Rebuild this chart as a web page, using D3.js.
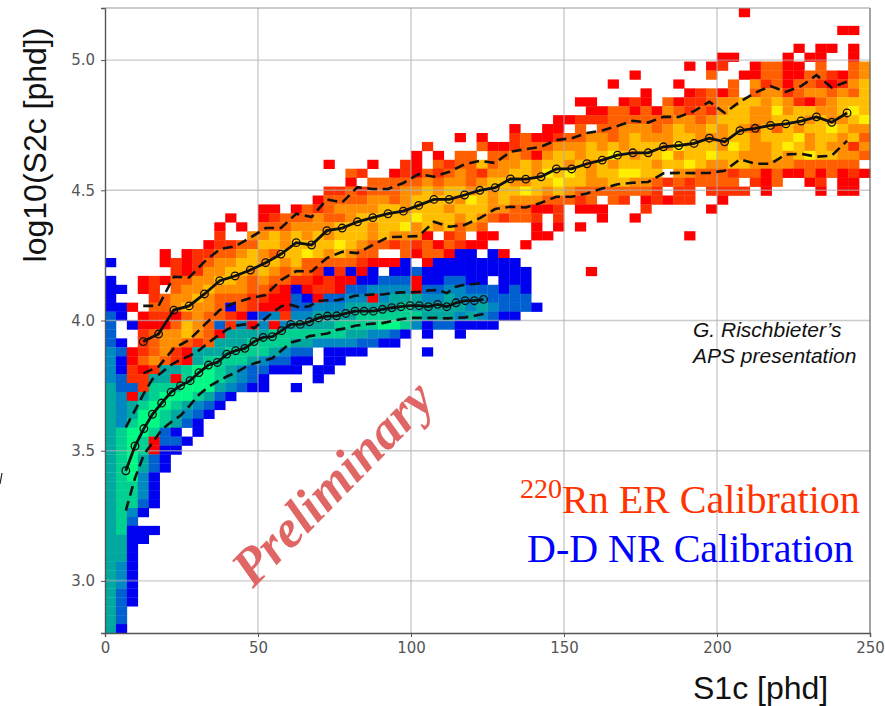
<!DOCTYPE html>
<html>
<head>
<meta charset="utf-8">
<script src="https://cdn.jsdelivr.net/npm/d3@7"></script>
<style>
  body { margin: 0; background: #fff; }
</style>
</head>
<body>
<div id="chart-area"></div>
<script>
const xTicks = [0, 50, 100, 150, 200, 250];
const yTicks = [3.0, 3.5, 4.0, 4.5, 5.0];

// 70 x 70 histogram, top row first, in groups of ten columns.
// 1-6 is the ER count level (red to yellow), a-f the NR count level (blue to green)
const histRows = [
  ".......... .......... .......... .......... .......... ........1.",
  "",
  ".......... .......... .......... .......... .......... .......... .......11.",
  "",
  ".......... .......... .......... .......... .......... .......... ...1.11.1.",
  ".......... .......... .......... .......... .......... ......11.. ..1.11..1.",
  ".......... .......... .......... .......... .......... ...1.12..1 3311.3..34",
  ".......... .......... .......... .......... ........1. .....3..11 3311332134",
  ".......... .......... .......... .......... ......1... ..1....3.4 2313321245",
  ".......... .......... .......... .......... .........1 ...12313.3 4423443435",
  ".......... .......... .......... .......... ...11..121 .312234455 4542134555",
  ".......... .......... .......... .......... ....113313 1432324554 4645544565",
  ".......... .......... .......... .......... .112223333 3344345554 4555454456",
  ".......... .......... .......... .......1.. 11.3.33444 3454454543 5354556544",
  ".......... .......... .......... ..1.1..231 1233443454 4455444554 5556455453",
  ".......... .......... .........2 ....311233 3444545455 5465554654 4565454424",
  ".......... .......... ........1. 1.33.33431 4554556545 5645565544 4545655443",
  ".......... .......... 1...1..21. 3233534454 5545454555 4556544554 444333333.",
  ".......... .......... ..32..1213 2343244554 6565455665 5.44333233 1311313121",
  ".......... .......... ..1.333334 3443455445 5655445544 32323333.2 13..12.11.",
  ".......... .......... 2232333445 4554545565 4543333333 2.22.2222. 1....1.11.",
  ".......... .........1 3333443455 5546545444 33323.32.1 2122..1...",
  ".......... ....11.132 3444455455 5455544331 12.111...2 .....1....",
  ".......... .1..123334 3345555565 5545432332 .2...1..1.",
  ".......... 1.1.333444 4555455645 45343....1 .1.1......",
  ".......... 2..4454545 4555454441 .23.11...1 1......... ...1......",
  ".........1 2233554555 5654332323 13211...1.",
  ".....1.122 3345435565 45433..313 31aa.a1...",
  "a....12123 4455454533 3332111a.1 aaaaaaaa..",
  "......2124 4554543432 a2a1a.aaba aaaaaaaaa. ....1.....",
  "a..1213344 5543433221 211aabbb1a abbaa.aaa.",
  "aa.12.3445 4443321a12 21bbcccc1b bccbbbaba.",
  "a...234454 3332211ba1 bbcc1cdddc cdcccbbbb.",
  "aa1.334544 3a32111bbc ccdddddedd dddcdcbbba",
  "ba.1221343 321abc2ccd dddeeeeeed ddcdcbaa..",
  "b.a1113543 b2c1c1cddd deeeeffeca bbaaaa....",
  "b..2344543 1ddddeeeee eeddccba.a ..a.......",
  "ba.2344323 dddeeeeddc cccbbaa...",
  "cb123421dd deeeedcbb. aaaa.....a",
  "ca134321de eeedcbbaa. aa........",
  "ca212ddeff edcbbaaa.a a.........",
  "cb22dd1eff edcba....a",
  "dbb2eeefff dcbaa..a..",
  "dc1defffed ba........",
  "dcdeffedcb a.........",
  "dcdffedcba",
  "dceffedba.",
  "deffeba.a.",
  "defe1bba..",
  "defe1aa...",
  "defdba....",
  "defdba....",
  "defca.....",
  "deeca.....",
  "deeca.....",
  "deeba.....",
  "deca......",
  "deb.......",
  "deaaa.....",
  "ddaa......",
  "dda.......",
  "dda.......",
  "dca.......",
  "dca.......",
  "dca.......",
  "dba.......",
  "dba.......",
  "db........",
  "db........",
  "da........"
];

const erS1 = [12.5, 17.5, 22.5, 27.5, 32.5, 37.5, 42.5, 47.5, 52.5, 57.5, 62.5, 67.5, 72.5, 77.5, 82.5, 87.5,
  92.5, 97.5, 102.5, 107.5, 112.5, 117.5, 122.5, 127.5, 132.5, 137.5, 142.5, 147.5, 152.5, 157.5, 162.5,
  167.5, 172.5, 177.5, 182.5, 187.5, 192.5, 197.5, 202.5, 207.5, 212.5, 217.5, 222.5, 227.5, 232.5, 237.5, 242.5];
const erMedian = [3.919, 3.948, 4.040, 4.056, 4.102, 4.153, 4.171, 4.194, 4.222, 4.255, 4.299, 4.290, 4.345, 4.355, 4.379, 4.395,
  4.410, 4.420, 4.442, 4.465, 4.465, 4.482, 4.500, 4.510, 4.544, 4.543, 4.552, 4.582, 4.582, 4.602, 4.616,
  4.635, 4.644, 4.644, 4.667, 4.672, 4.680, 4.700, 4.686, 4.729, 4.738, 4.749, 4.755, 4.766, 4.782, 4.761, 4.797];
const erUpper = [4.056, 4.056, 4.168, 4.165, 4.226, 4.274, 4.285, 4.318, 4.355, 4.355, 4.410, 4.397, 4.465, 4.453, 4.512, 4.505,
  4.505, 4.528, 4.562, 4.552, 4.571, 4.600, 4.613, 4.605, 4.648, 4.658, 4.667, 4.693, 4.700, 4.720, 4.730,
  4.747, 4.767, 4.760, 4.782, 4.782, 4.804, 4.840, 4.797, 4.840, 4.875, 4.900, 4.878, 4.900, 4.942, 4.895, 4.917];
const erLower = [3.797, 3.823, 3.893, 3.925, 3.983, 4.040, 4.068, 4.086, 4.098, 4.155, 4.190, 4.188, 4.240, 4.264, 4.259, 4.290,
  4.320, 4.322, 4.324, 4.379, 4.360, 4.367, 4.393, 4.428, 4.437, 4.434, 4.452, 4.475, 4.475, 4.488, 4.507,
  4.523, 4.529, 4.532, 4.565, 4.567, 4.566, 4.567, 4.575, 4.619, 4.602, 4.602, 4.638, 4.640, 4.629, 4.633, 4.690];

const nrS1 = [6.8, 9.8, 12.7, 15.5, 18.5, 21.6, 24.7, 27.8, 30.7, 33.8, 36.7, 39.8, 42.7, 45.7, 48.7, 51.7, 54.7, 57.7, 60.7, 63.8,
  66.8, 69.8, 72.7, 75.7, 78.7, 81.7, 84.7, 87.7, 90.7, 93.7, 96.7, 99.7, 102.7, 105.7, 108.7, 111.7, 114.7, 117.7, 120.7, 123.7];
const nrMedian = [3.423, 3.518, 3.585, 3.640, 3.683, 3.725, 3.750, 3.769, 3.800, 3.829, 3.839, 3.871, 3.884, 3.893, 3.919, 3.935, 3.938, 3.961, 3.985, 3.985,
  3.995, 4.010, 4.017, 4.018, 4.027, 4.036, 4.036, 4.036, 4.043, 4.049, 4.053, 4.057, 4.057, 4.053, 4.062, 4.053, 4.068, 4.076, 4.076, 4.081];
const nrUpper = [3.590, 3.655, 3.720, 3.775, 3.800, 3.830, 3.850, 3.865, 3.885, 3.915, 3.940, 3.965, 3.980, 3.985, 3.970, 4.000, 4.030, 4.055, 4.060, 4.050,
  4.055, 4.075, 4.078, 4.078, 4.085, 4.095, 4.098, 4.100, 4.100, 4.105, 4.108, 4.108, 4.110, 4.115, 4.117, 4.105, 4.130, 4.138, 4.140, 4.145];
const nrLower = [3.270, 3.395, 3.485, 3.530, 3.580, 3.610, 3.635, 3.675, 3.715, 3.745, 3.765, 3.785, 3.800, 3.820, 3.835, 3.845, 3.855, 3.885, 3.915, 3.925,
  3.940, 3.945, 3.950, 3.964, 3.970, 3.980, 3.985, 3.988, 3.990, 3.998, 4.005, 4.010, 4.010, 4.010, 4.010, 4.008, 4.010, 4.012, 4.018, 4.025];

const margin = { left: 105, right: 15, top: 8, bottom: 73 };
const width = 885;
const height = 706;
const innerW = width - margin.left - margin.right;
const innerH = height - margin.top - margin.bottom;

const scaleX = d3.scaleLinear().domain([0, 250]).range([0, innerW]);
const scaleY = d3.scaleLinear().domain([2.8, 5.2]).range([innerH, 0]);
const bandX = d3.scaleBand().domain(d3.range(70)).range([0, innerW]);
const bandY = d3.scaleBand().domain(d3.range(70)).range([0, innerH]);

const erColor = d3.scaleLinear().domain([1, 6]).range(['#ff0000', '#ffee00']);
const nrColor = d3.scaleLinear()
  .domain([1, 2, 3, 4, 5, 6])
  .range(['#0000f0', '#0060d0', '#0088c0', '#00a8a0', '#00d090', '#00fa84']);

const cells = [];
histRows.forEach((row, i) => {
  row.replace(/ /g, '').split('').forEach((c, j) => {
    if (c !== '.') cells.push({ row: i, col: j, code: c });
  });
});

const cellColor = d => (d.code >= 'a' ? nrColor(d.code.charCodeAt(0) - 96) : erColor(+d.code));

const svg = d3.select('#chart-area').append('svg')
  .attr('width', width)
  .attr('height', height)
  .style('display', 'block');

const g = svg.append('g')
  .attr('transform', `translate(${margin.left}, ${margin.top})`);

g.selectAll('rect.cell')
  .data(cells)
  .enter().append('rect')
    .attr('class', 'cell')
    .attr('x', d => bandX(d.col))
    .attr('y', d => bandY(d.row))
    .attr('width', bandX.bandwidth() + 0.3)
    .attr('height', bandY.bandwidth() + 0.3)
    .attr('fill', cellColor);

// grid sits over the cells, as it does in the picture
g.selectAll('line.gridx')
  .data(xTicks.slice(1, -1))
  .enter().append('line')
    .attr('class', 'gridx')
    .attr('x1', d => scaleX(d))
    .attr('x2', d => scaleX(d))
    .attr('y1', 0)
    .attr('y2', innerH);

g.selectAll('line.gridy')
  .data(yTicks)
  .enter().append('line')
    .attr('class', 'gridy')
    .attr('x1', 0)
    .attr('x2', innerW)
    .attr('y1', d => scaleY(d))
    .attr('y2', d => scaleY(d));

g.selectAll('.gridx, .gridy')
  .attr('stroke', '#b0b0b0')
  .attr('stroke-width', 1.4)
  .attr('opacity', 0.65);

const line = d3.line()
  .x(d => scaleX(d[0]))
  .y(d => scaleY(d[1]));

const bands = [
  [erS1, erUpper],
  [erS1, erLower],
  [nrS1, nrUpper],
  [nrS1, nrLower]
];
bands.forEach(([xs, ys]) => {
  g.append('path')
    .attr('d', line(d3.zip(xs, ys)))
    .attr('fill', 'none')
    .attr('stroke', '#111')
    .attr('stroke-width', 2.6)
    .attr('stroke-dasharray', '10,5.5');
});

const medians = [[erS1, erMedian], [nrS1, nrMedian]];
medians.forEach(([xs, ys]) => {
  const pts = d3.zip(xs, ys);
  g.append('path')
    .attr('d', line(pts))
    .attr('fill', 'none')
    .attr('stroke', '#111')
    .attr('stroke-width', 2.8);
  g.append('g').selectAll('circle')
    .data(pts)
    .enter().append('circle')
      .attr('cx', d => scaleX(d[0]))
      .attr('cy', d => scaleY(d[1]))
      .attr('r', 3.8)
      .attr('fill', 'none')
      .attr('stroke', '#111')
      .attr('stroke-width', 1.3);
});

const axisX = d3.axisBottom(scaleX).tickValues(xTicks).tickSize(4).tickPadding(5);
const axisY = d3.axisLeft(scaleY).tickValues(yTicks).tickSize(4).tickPadding(6).tickFormat(d3.format('.1f'));

const gx = g.append('g')
  .attr('transform', `translate(0, ${innerH})`)
  .call(axisX);
const gy = g.append('g')
  .call(axisY);

[gx, gy].forEach(a => {
  a.selectAll('text')
    .attr('font-family', '"DejaVu Sans"')
    .attr('font-size', 15)
    .attr('fill', '#555');
  a.selectAll('line').attr('stroke', '#555');
  a.select('.domain').attr('stroke', '#555').attr('stroke-width', 1.4);
});

// frame on the two open sides
g.append('line')
  .attr('x1', innerW).attr('x2', innerW).attr('y1', 0).attr('y2', innerH)
  .attr('stroke', '#666').attr('stroke-width', 1.2);
g.append('line')
  .attr('x1', 0).attr('x2', innerW).attr('y1', 0).attr('y2', 0)
  .attr('stroke', '#999').attr('stroke-width', 1);

svg.append('text')
  .text('log10(S2c [phd])')
  .attr('transform', 'translate(46, 145) rotate(-90)')
  .attr('text-anchor', 'middle')
  .attr('font-family', '"Liberation Sans"')
  .attr('font-size', 32)
  .attr('fill', '#111');

svg.append('text')
  .text('S1c [phd]')
  .attr('x', 693)
  .attr('y', 699)
  .attr('font-family', '"Liberation Sans"')
  .attr('font-size', 32)
  .attr('fill', '#111');

const note = svg.append('g')
  .attr('font-family', '"Liberation Sans"')
  .attr('font-style', 'italic')
  .attr('font-size', 21)
  .attr('fill', '#111');
note.append('text').text('G. Rischbieter’s').attr('x', 693).attr('y', 337);
note.append('text').text('APS presentation').attr('x', 693).attr('y', 363);

const erLabel = svg.append('text')
  .attr('x', 520)
  .attr('y', 513)
  .attr('font-family', '"Liberation Serif"')
  .attr('font-size', 40)
  .attr('fill', '#ff3300');
erLabel.append('tspan').text('220').attr('font-size', 28).attr('dy', -15);
erLabel.append('tspan').text('Rn ER Calibration').attr('dy', 15);

svg.append('text')
  .text('D-D NR Calibration')
  .attr('x', 527)
  .attr('y', 562)
  .attr('font-family', '"Liberation Serif"')
  .attr('font-size', 40)
  .attr('fill', '#0000ff');

svg.append('text')
  .text('Preliminary')
  .attr('transform', 'translate(253, 589) rotate(-45.5)')
  .attr('font-family', '"Liberation Serif"')
  .attr('font-style', 'italic')
  .attr('font-weight', 'bold')
  .attr('font-size', 53)
  .attr('fill', '#e06666');

// stray mark clipped at the left edge of the slide
svg.append('line')
  .attr('x1', 0).attr('x2', 2).attr('y1', 484).attr('y2', 473)
  .attr('stroke', '#222').attr('stroke-width', 1.2);
</script>
</body>
</html>
